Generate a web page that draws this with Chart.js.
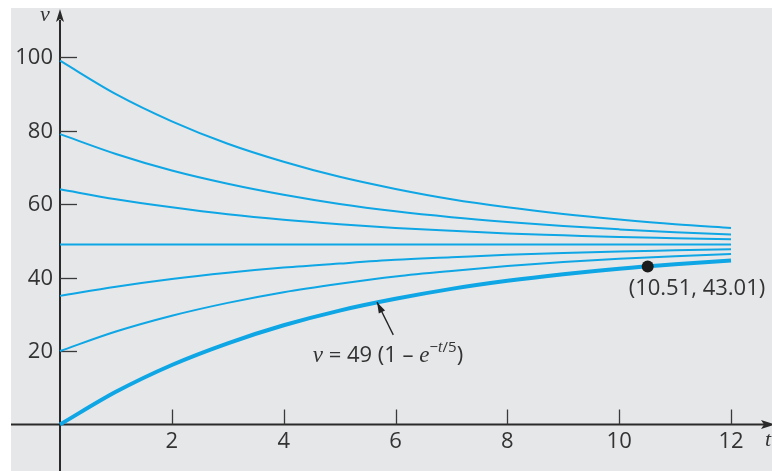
<!DOCTYPE html>
<html>
<head>
<meta charset="utf-8">
<script src="https://cdn.jsdelivr.net/npm/chart.js@4"></script>
<style>
html,body{margin:0;padding:0;background:#fff;overflow:hidden;}
#wrap{position:absolute;left:0;top:0;width:772px;height:471px;}
</style>
</head>
<body>
<div id="wrap"><canvas id="c"></canvas></div>
<script>
// time values (t)
const tValues = [0,1,2,3,4,5,6,7,8,9,10,11,12];
// velocity curves (starting values 0,20,35,49,64,79,99)
const vFrom0  = [0, 8.9, 16.2, 22.1, 27.0, 31.0, 34.2, 36.9, 39.1, 40.9, 42.4, 43.6, 44.6];
const vFrom20 = [20, 25.3, 29.6, 33.1, 36.0, 38.3, 40.3, 41.8, 43.1, 44.2, 45.1, 45.8, 46.4];
const vFrom35 = [35, 37.5, 39.6, 41.3, 42.7, 43.8, 44.8, 45.5, 46.2, 46.7, 47.1, 47.4, 47.7];
const vFrom49 = [49, 49, 49, 49, 49, 49, 49, 49, 49, 49, 49, 49, 49];
const vFrom64 = [64, 61.3, 59.1, 57.2, 55.7, 54.5, 53.5, 52.7, 52.0, 51.5, 51.0, 50.7, 50.4];
const vFrom79 = [79, 73.6, 69.1, 65.5, 62.5, 60.0, 58.0, 56.4, 55.1, 54.0, 53.1, 52.3, 51.7];
const vFrom99 = [99, 89.9, 82.5, 76.4, 71.5, 67.4, 64.1, 61.3, 59.1, 57.3, 55.8, 54.5, 53.5];
// marked point
const markedPoint = {t: 10.51, v: 43.01};
const markedLabel = "(10.51, 43.01)";
// tick labels
const xTicks = [2,4,6,8,10,12];
const yTicks = [20,40,60,80,100];

const curveColor = '#0ea6e4';
const toXY = arr => arr.map((v,i)=>({x:tValues[i], y:v}));
const thin = arr => ({data:toXY(arr), borderColor:curveColor, borderWidth:2, pointRadius:0, cubicInterpolationMode:'monotone', fill:false});

const axisColor = '#2a2a2a';
const textColor = '#333';
const sans = '"Open Sans", "Liberation Sans", sans-serif';
const serif = '"Liberation Serif", "DejaVu Serif", serif';

const axesPlugin = {
  id: 'axesPlugin',
  beforeDraw(chart){
    const ctx = chart.ctx;
    ctx.save();
    ctx.fillStyle = '#ffffff';
    ctx.fillRect(0,0,chart.width,chart.height);
    ctx.fillStyle = '#e6e7e9';
    ctx.fillRect(11,8,chart.width-11,chart.height-8);
    ctx.restore();
  },
  beforeDatasetsDraw(chart){
    const ctx = chart.ctx, xs = chart.scales.x, ys = chart.scales.y;
    const x0 = xs.getPixelForValue(0), y0 = ys.getPixelForValue(0);
    ctx.save();
    ctx.strokeStyle = axisColor;
    ctx.fillStyle = axisColor;
    // x axis
    ctx.lineWidth = 2;
    ctx.beginPath(); ctx.moveTo(11, y0); ctx.lineTo(764, y0); ctx.stroke();
    ctx.beginPath(); ctx.moveTo(775, y0); ctx.lineTo(761, y0-4.5); ctx.lineTo(764, y0); ctx.lineTo(761, y0+4.5); ctx.closePath(); ctx.fill();
    // y axis
    ctx.beginPath(); ctx.moveTo(x0, chart.height); ctx.lineTo(x0, 20); ctx.stroke();
    ctx.beginPath(); ctx.moveTo(x0, 9); ctx.lineTo(x0-4, 22); ctx.lineTo(x0, 19); ctx.lineTo(x0+4, 22); ctx.closePath(); ctx.fill();
    // ticks
    ctx.lineWidth = 1.3;
    ctx.strokeStyle = '#3a3a3a';
    xTicks.forEach(t=>{ const px = Math.round(xs.getPixelForValue(t))+0.5; ctx.beginPath(); ctx.moveTo(px, y0); ctx.lineTo(px, y0-15); ctx.stroke(); });
    yTicks.forEach(v=>{ const py = Math.round(ys.getPixelForValue(v))+0.5; ctx.beginPath(); ctx.moveTo(x0, py); ctx.lineTo(x0+17, py); ctx.stroke(); });
    // tick labels
    ctx.fillStyle = textColor;
    ctx.font = '22px ' + sans;
    ctx.textAlign = 'center'; ctx.textBaseline = 'middle';
    xTicks.forEach(t=>{ ctx.fillText(String(t), xs.getPixelForValue(t), y0+17); });
    ctx.textAlign = 'right';
    yTicks.forEach(v=>{ ctx.fillText(String(v), 53, ys.getPixelForValue(v)+1); });
    // axis titles
    ctx.font = 'italic 22px ' + serif;
    ctx.textAlign = 'center';
    ctx.fillText('v', 45, 15);
    ctx.textAlign = 'left';
    ctx.fillText('t', 765, y0+16);
    ctx.restore();
  },
  afterDatasetsDraw(chart){
    const ctx = chart.ctx, xs = chart.scales.x, ys = chart.scales.y;
    ctx.save();
    // point label
    ctx.fillStyle = textColor;
    ctx.font = '22px ' + sans;
    ctx.textAlign = 'left'; ctx.textBaseline = 'middle';
    ctx.fillText(markedLabel, xs.getPixelForValue(10.17), ys.getPixelForValue(37.0));
    // annotation arrow
    const tipX = xs.getPixelForValue(5.67), tipY = ys.getPixelForValue(33.3);
    const tailX = xs.getPixelForValue(5.96), tailY = ys.getPixelForValue(24.4);
    ctx.strokeStyle = '#222'; ctx.fillStyle = '#222'; ctx.lineWidth = 1.3;
    ctx.beginPath(); ctx.moveTo(tailX, tailY); ctx.lineTo(tipX, tipY); ctx.stroke();
    const ang = Math.atan2(tipY-tailY, tipX-tailX);
    const L = 11, W = 3.5;
    ctx.beginPath();
    ctx.moveTo(tipX, tipY);
    ctx.lineTo(tipX - L*Math.cos(ang) + W*Math.sin(ang), tipY - L*Math.sin(ang) - W*Math.cos(ang));
    ctx.lineTo(tipX - L*Math.cos(ang) - W*Math.sin(ang), tipY - L*Math.sin(ang) + W*Math.cos(ang));
    ctx.closePath(); ctx.fill();
    // formula text
    let x = xs.getPixelForValue(4.52);
    const base = ys.getPixelForValue(17.0);
    ctx.textBaseline = 'alphabetic';
    ctx.fillStyle = textColor;
    const part = (txt, font, dy) => { ctx.font = font; ctx.fillText(txt, x, base + (dy||0)); x += ctx.measureText(txt).width; };
    part('v', 'italic 23px ' + serif);
    part(' = 49 (1 – ', '22px ' + sans);
    part('e', 'italic 23px ' + serif);
    part('−', '15px ' + sans, -10);
    part('t', 'italic 16px ' + serif, -10);
    part('/5', '15px ' + sans, -10);
    part(')', '22px ' + sans);
    ctx.restore();
  }
};

new Chart(document.getElementById('c'), {
  type: 'line',
  data: {
    datasets: [
      {type: 'scatter', data: [{x: markedPoint.t, y: markedPoint.v}], backgroundColor: '#1b1b1b', borderColor: '#1b1b1b', pointRadius: 6, borderWidth: 0},
      {data: toXY(vFrom0), borderColor: curveColor, borderWidth: 4, pointRadius: 0, cubicInterpolationMode: 'monotone', fill: false},
      thin(vFrom20), thin(vFrom35), thin(vFrom49), thin(vFrom64), thin(vFrom79), thin(vFrom99)
    ]
  },
  options: {
    responsive: true,
    maintainAspectRatio: false,
    animation: false,
    layout: {padding: 0, autoPadding: false},
    plugins: {legend: {display: false}, tooltip: {enabled: false}},
    scales: {
      x: {type: 'linear', min: -1.073, max: 12.733, display: false},
      y: {type: 'linear', min: -12.65, max: 115.51, display: false}
    }
  },
  plugins: [axesPlugin]
});
</script>
</body>
</html>
